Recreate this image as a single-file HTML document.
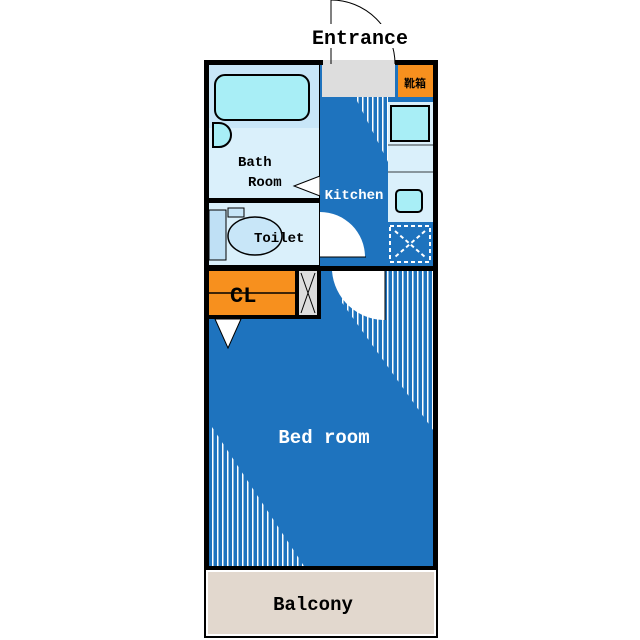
<!DOCTYPE html>
<html><head><meta charset="utf-8"><style>body{margin:0;background:#fff}svg{display:block}</style></head><body>
<svg width="640" height="640" viewBox="0 0 640 640" xmlns="http://www.w3.org/2000/svg" font-family="'Liberation Mono','Noto Sans CJK JP',monospace" font-weight="bold">
<defs>
<pattern id="st" width="5" height="10" patternUnits="userSpaceOnUse"><rect x="2" y="0" width="1.5" height="10" fill="#fff"/></pattern>
</defs>
<rect width="640" height="640" fill="#fff"/>
<rect x="204" y="60" width="234" height="510" fill="#000"/>
<!-- bedroom -->
<rect x="209" y="271" width="224" height="295" fill="#1e73be"/>
<polygon points="340,300 385,271 433,271 433,430" fill="url(#st)"/>
<polygon points="210,424 210,566 304,566" fill="url(#st)"/>
<!-- bath -->
<rect x="209" y="65" width="110" height="133" fill="#daf0fb"/>
<rect x="209" y="65" width="110" height="63" fill="#c8e6f8"/>
<rect x="215" y="75" width="94" height="45" rx="10" fill="#a8eef6" stroke="#000" stroke-width="2"/>
<path d="M213 123 h6 a12 12 0 0 1 0 24 h-6 z" fill="#a8eef6" stroke="#000" stroke-width="2"/>
<text x="238" y="166" font-size="14" fill="#000">Bath</text>
<text x="248" y="186" font-size="14" fill="#000">Room</text>
<polygon points="294,186 320,176 320,196" fill="#fff" stroke="#000" stroke-width="1"/>
<!-- toilet -->
<rect x="209" y="203" width="110" height="62" fill="#daf0fb"/>
<rect x="209" y="210" width="17" height="50" fill="#bfe0f5" stroke="#000" stroke-width="1"/>
<rect x="228" y="208" width="16" height="9" fill="#c8e6f8" stroke="#000" stroke-width="1"/>
<ellipse cx="255" cy="236" rx="27" ry="19" fill="#c8e6f8" stroke="#000" stroke-width="1.5"/>
<text x="254" y="242" font-size="14" fill="#000">Toilet</text>
<!-- kitchen -->
<rect x="320" y="65" width="113" height="201" fill="#1e73be"/>
<rect x="322" y="65" width="73" height="32" fill="#ddd"/>
<rect x="398" y="65" width="35" height="32" fill="#f7901e"/>
<text x="415" y="87" font-size="11" text-anchor="middle" fill="#000">靴箱</text>
<rect x="388" y="102" width="45" height="120" fill="#daf0fb"/>
<rect x="391" y="106" width="38" height="35" fill="#a8eef6" stroke="#000" stroke-width="2"/>
<line x1="388" y1="145" x2="433" y2="145" stroke="#000" stroke-width="0.8"/>
<line x1="388" y1="172" x2="433" y2="172" stroke="#000" stroke-width="0.8"/>
<rect x="396" y="190" width="26" height="22" rx="4" fill="#a8eef6" stroke="#000" stroke-width="2"/>
<rect x="390" y="226" width="40" height="36" fill="none" stroke="#fff" stroke-width="2" stroke-dasharray="4,3"/>
<path d="M395 231 L425 257 M425 231 L395 257" stroke="#fff" stroke-width="2" stroke-dasharray="4,3"/>
<polygon points="355,97 388,97 388,162" fill="url(#st)"/>
<text x="354" y="199" font-size="14" fill="#fff" text-anchor="middle">Kitchen</text>
<path d="M320 257 L320 212 A45 45 0 0 1 365 257 Z" fill="#fff"/>
<line x1="320" y1="257" x2="366" y2="257" stroke="#000" stroke-width="1"/>
<!-- walls around CL -->
<rect x="204" y="266" width="117" height="53" fill="#000"/>
<!-- CL -->
<rect x="209" y="271" width="86" height="44" fill="#f7901e"/>
<line x1="209" y1="293" x2="295" y2="293" stroke="#000" stroke-width="1.5"/>
<text x="230" y="302" font-size="22" fill="#000">CL</text>
<rect x="299" y="271" width="18" height="44" fill="#ddd"/>
<path d="M301 273 L315 313 M315 273 L301 313" stroke="#000" stroke-width="1"/>
<path d="M385 271 L332 271 A53 53 0 0 0 385 320 Z" fill="#fff"/>
<line x1="385" y1="271" x2="385" y2="320" stroke="#000" stroke-width="1"/>
<polygon points="215,319 241,319 228,348" fill="#fff" stroke="#000" stroke-width="1"/>
<text x="324" y="443" font-size="19" fill="#fff" text-anchor="middle">Bed room</text>
<!-- balcony -->
<rect x="204" y="566" width="234" height="72" fill="#000"/>
<rect x="206" y="570" width="230" height="66" fill="#fff"/>
<rect x="208" y="572" width="226" height="62" fill="#e2d8ce"/>
<text x="313" y="610" font-size="19" fill="#000" text-anchor="middle">Balcony</text>
<!-- entrance door -->
<rect x="323" y="60" width="72" height="5" fill="#ddd"/>
<line x1="331" y1="0" x2="331" y2="64" stroke="#000" stroke-width="1"/>
<path d="M331 0 A64 64 0 0 1 395 64" fill="none" stroke="#000" stroke-width="1"/>
<rect x="310" y="24" width="100" height="24" fill="#fff"/>
<text x="360" y="44" font-size="20" fill="#000" text-anchor="middle">Entrance</text>
</svg>
</body></html>
